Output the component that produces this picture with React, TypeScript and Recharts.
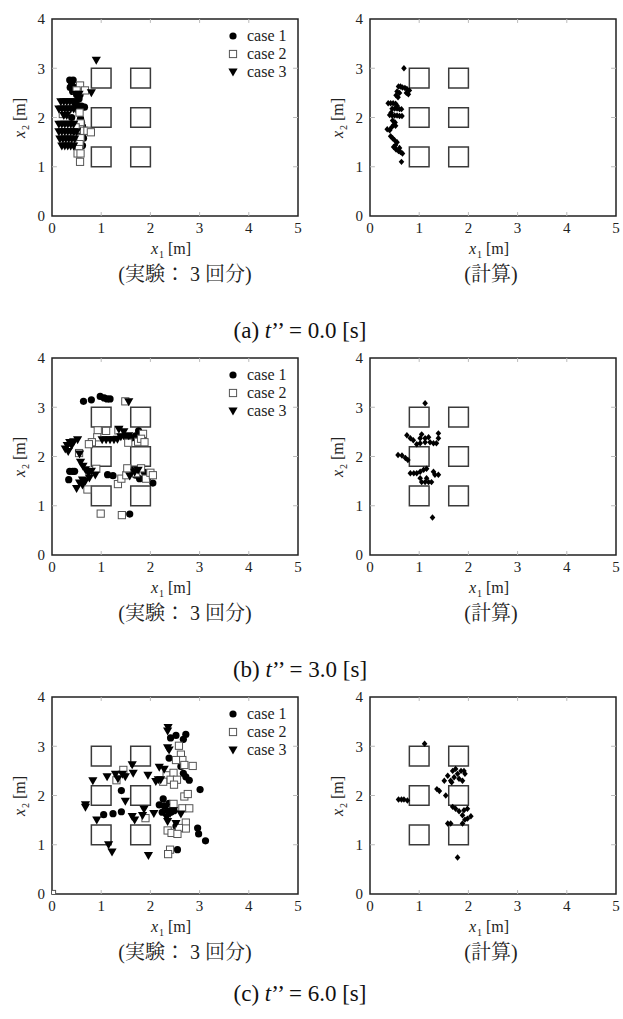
import React from "react";
import {
  ScatterChart,
  Scatter,
  XAxis,
  YAxis,
  ReferenceArea,
  ReferenceLine,
} from "recharts";

type Pt = [number, number];

const xTicks = [0, 1, 2, 3, 4, 5];
const yTicks = [0, 1, 2, 3, 4];
const innerXTicks = [1, 2, 3, 4];
const innerYTicks = [1, 2, 3];

// pillars (0.4 m squares)
const obstacleX = [0.8, 1.6];
const obstacleY = [1.0, 1.8, 2.6];
const obstacleSize = 0.4;

const caseNames = ["case 1", "case 2", "case 3"];
const captions = ["(実験： 3 回分)", "(計算)"];
const titleTags = ["(a)", "(b)", "(c)"];
const titleTimes = ["0.0", "3.0", "6.0"];

// t'' = 0.0 s
const t0Case1: Pt[] = [
  [0.36, 2.76], [0.43, 2.76], [0.4, 2.68], [0.37, 2.61], [0.45, 2.61], [0.42, 2.53],
  [0.5, 2.46], [0.57, 2.46], [0.55, 2.38], [0.47, 2.3], [0.53, 2.24], [0.6, 2.23],
  [0.66, 2.21], [0.53, 2.15], [0.58, 1.98], [0.6, 1.9], [0.62, 1.82], [0.57, 1.7],
  [0.64, 1.58], [0.55, 1.55], [0.62, 1.43], [0.5, 1.4], [0.45, 1.72], [0.4, 2.0],
];
const t0Case2: Pt[] = [
  [0.57, 2.65], [0.67, 2.55], [0.5, 2.55], [0.22, 2.07], [0.56, 2.1], [0.58, 1.88],
  [0.57, 1.76], [0.65, 1.73], [0.72, 1.73], [0.79, 1.7], [0.58, 1.58], [0.56, 1.46],
  [0.55, 1.36], [0.52, 1.27], [0.58, 1.27], [0.57, 1.1], [0.48, 1.8],
];
const t0Case3: Pt[] = [
  [0.9, 3.16], [0.8, 2.5], [0.48, 2.47], [0.55, 2.47],
  [0.18, 2.32], [0.24, 2.32], [0.3, 2.32], [0.36, 2.32], [0.42, 2.32], [0.48, 2.32],
  [0.14, 2.17], [0.2, 2.17], [0.26, 2.17], [0.32, 2.17], [0.38, 2.17], [0.44, 2.17],
  [0.24, 2.04], [0.3, 2.04],
  [0.14, 1.86], [0.2, 1.86], [0.26, 1.86], [0.32, 1.86], [0.38, 1.86], [0.44, 1.86],
  [0.14, 1.71], [0.2, 1.71], [0.26, 1.71], [0.32, 1.71], [0.38, 1.71], [0.44, 1.71], [0.5, 1.71],
  [0.16, 1.56], [0.22, 1.56], [0.28, 1.56], [0.34, 1.56], [0.4, 1.56], [0.46, 1.56],
  [0.2, 1.42], [0.26, 1.42], [0.32, 1.42], [0.38, 1.42], [0.44, 1.42],
];
const t0Calc: Pt[] = [
  [0.69, 3.0],
  [0.58, 2.63], [0.62, 2.63], [0.66, 2.61], [0.71, 2.6], [0.75, 2.58], [0.8, 2.55],
  [0.74, 2.5], [0.78, 2.47], [0.55, 2.53], [0.6, 2.5], [0.53, 2.45], [0.57, 2.41],
  [0.37, 2.29], [0.42, 2.29], [0.47, 2.29], [0.52, 2.28], [0.55, 2.24],
  [0.45, 2.18], [0.5, 2.18], [0.55, 2.18], [0.6, 2.17], [0.64, 2.17],
  [0.43, 2.1], [0.4, 2.05], [0.45, 2.04], [0.5, 2.04], [0.55, 2.04], [0.6, 2.03], [0.65, 2.03],
  [0.46, 1.94], [0.51, 1.9],
  [0.35, 1.76], [0.4, 1.74], [0.44, 1.8], [0.48, 1.85], [0.52, 1.83],
  [0.42, 1.62], [0.46, 1.58], [0.5, 1.54], [0.55, 1.5], [0.52, 1.44], [0.48, 1.4],
  [0.53, 1.35], [0.58, 1.32], [0.62, 1.3], [0.66, 1.27], [0.6, 1.38],
  [0.64, 1.1],
];

// t'' = 3.0 s
const t3Case1: Pt[] = [
  [0.64, 3.12], [0.8, 3.15], [0.98, 3.22], [1.06, 3.19], [1.12, 3.17], [1.18, 3.17],
  [0.36, 1.7], [0.42, 1.7], [0.46, 1.7], [0.34, 1.53],
  [1.13, 1.63], [1.24, 1.61],
  [1.4, 2.45], [1.5, 2.4], [1.62, 2.38], [1.7, 2.42], [1.76, 2.52], [1.85, 2.35],
  [1.52, 1.65], [1.62, 1.72], [1.7, 1.62], [1.78, 1.55], [1.88, 1.68], [1.95, 1.58],
  [2.05, 1.46], [1.58, 0.83],
];
const t3Case2: Pt[] = [
  [1.49, 3.12], [0.93, 2.53], [1.1, 2.52], [0.92, 2.39], [0.81, 2.29], [0.75, 2.25],
  [0.55, 2.07], [0.9, 1.75], [0.72, 1.33], [0.99, 0.84], [1.42, 0.81],
  [1.35, 2.53], [1.55, 2.28], [1.75, 2.3], [1.85, 2.46], [1.81, 2.36], [1.88, 2.29],
  [1.34, 1.44], [1.41, 1.55], [1.51, 1.62], [1.53, 1.76], [1.71, 1.66], [1.81, 1.76],
  [1.91, 1.55], [2.0, 1.67], [2.05, 1.62],
];
const t3Case3: Pt[] = [
  [1.56, 3.11],
  [0.27, 2.15], [0.31, 2.22], [0.36, 2.28], [0.4, 2.22], [0.44, 2.3], [0.52, 2.34], [0.33, 2.1],
  [0.56, 2.05], [0.58, 1.88], [0.63, 1.8], [0.68, 1.73], [0.74, 1.66], [0.8, 1.7],
  [0.5, 1.35], [0.56, 1.46], [0.62, 1.52], [0.68, 1.5], [0.76, 1.56], [0.88, 1.62], [0.62, 1.42],
  [1.02, 2.34], [1.1, 2.34], [1.18, 2.34], [1.26, 2.34],
  [1.36, 2.55], [1.46, 2.5], [1.4, 2.4], [1.56, 2.42], [1.33, 2.35],
  [1.58, 1.6], [1.68, 1.68], [1.75, 1.72],
];
const t3Calc: Pt[] = [
  [1.12, 3.08],
  [0.75, 2.43], [0.82, 2.37], [0.88, 2.33], [1.02, 2.37], [1.05, 2.45], [1.12, 2.37],
  [1.19, 2.39], [1.22, 2.29], [1.29, 2.27], [1.35, 2.27], [1.39, 2.37], [1.39, 2.47],
  [1.02, 2.27], [1.12, 2.29], [0.95, 2.25],
  [0.57, 2.03], [0.65, 2.02], [0.72, 1.97], [0.77, 1.93],
  [0.82, 1.66], [0.89, 1.66], [0.95, 1.66], [1.02, 1.69], [1.09, 1.73], [1.15, 1.75],
  [1.02, 1.56], [1.05, 1.48], [1.12, 1.48], [1.19, 1.48], [1.25, 1.48], [1.29, 1.69],
  [1.32, 1.63], [1.39, 1.63], [1.15, 1.56],
  [1.27, 0.76],
];

// t'' = 6.0 s
const t6Case1: Pt[] = [
  [2.41, 3.17], [2.52, 3.22], [2.72, 3.24], [2.67, 3.14], [2.38, 2.76],
  [2.62, 2.59], [2.67, 2.45], [2.72, 2.38], [2.79, 2.31], [3.01, 2.12],
  [1.41, 2.1], [1.05, 1.61], [1.24, 1.63], [1.41, 1.67],
  [2.26, 1.93], [2.18, 1.81], [2.28, 1.79], [2.38, 1.84], [2.24, 1.66], [2.35, 1.69],
  [2.48, 1.69], [2.41, 1.66], [2.52, 1.38],
  [2.96, 1.34], [2.98, 1.22], [3.12, 1.08], [2.55, 0.9],
];
const t6Case2: Pt[] = [
  [2.58, 3.01], [2.62, 2.83], [2.65, 2.72], [2.52, 2.72], [2.69, 2.62], [2.86, 2.6],
  [1.45, 2.52], [1.31, 2.31],
  [2.33, 2.41], [2.47, 2.46], [2.41, 2.32], [2.54, 2.32], [2.26, 2.28], [2.48, 2.22],
  [2.69, 1.98], [2.76, 2.03], [2.47, 1.83], [2.65, 1.74], [2.79, 1.74], [1.9, 1.54],
  [2.72, 1.45], [2.72, 1.33], [2.58, 1.34], [2.35, 1.29], [2.43, 1.24], [2.55, 1.22],
  [2.4, 0.9], [2.36, 0.81], [0.0, 0.0],
];
const t6Case3: Pt[] = [
  [2.36, 3.38], [2.35, 3.31], [2.35, 2.97], [2.38, 2.92],
  [0.68, 1.81], [0.68, 1.76], [0.83, 2.3],
  [1.12, 2.38], [1.29, 2.43], [1.34, 2.34], [1.43, 2.43], [1.49, 2.38], [1.65, 2.45], [1.63, 2.62],
  [1.95, 2.41], [2.18, 2.57], [2.28, 2.53], [2.11, 2.28], [2.16, 2.32], [2.21, 2.32],
  [1.49, 1.88], [0.91, 1.5], [1.63, 1.57], [1.68, 1.5], [1.87, 1.72], [1.84, 1.59], [2.07, 1.63],
  [1.15, 1.0], [1.22, 0.85], [1.96, 0.78],
  [2.33, 1.55], [2.35, 1.47], [2.4, 1.63], [2.47, 1.69], [2.52, 1.43], [2.62, 1.62], [2.31, 1.76],
];
const t6Calc: Pt[] = [
  [1.11, 3.05],
  [0.58, 1.92], [0.64, 1.92], [0.69, 1.92], [0.76, 1.9],
  [1.36, 2.13], [1.41, 2.09], [1.51, 2.3], [1.54, 2.0],
  [1.58, 2.4], [1.64, 2.3], [1.68, 2.5], [1.74, 2.54], [1.78, 2.44], [1.81, 2.34],
  [1.71, 2.37], [1.88, 2.3], [1.91, 2.5], [1.85, 2.5], [1.93, 2.44], [1.66, 2.27],
  [1.68, 1.77], [1.74, 1.73], [1.81, 1.68], [1.91, 1.7], [1.98, 1.73],
  [1.88, 1.6], [1.93, 1.51], [1.88, 1.43], [1.98, 1.53], [2.05, 1.58],
  [1.58, 1.43], [1.64, 1.43],
  [1.78, 0.74],
];

const SERIF = "Liberation Serif, DejaVu Serif, Noto Serif, serif";
const CAPTION_FONT = "Liberation Serif, DejaVu Serif, Noto Serif CJK JP, Noto Sans CJK JP, serif";

const FW = 246;
const FH = 197;
const PAD = { l: 44, r: 10, t: 10, b: 30 };

const toData = (pts: Pt[]) => pts.map(([x, y]) => ({ x, y }));

const Dot = (p: any) => <circle cx={p.cx} cy={p.cy} r={3.6} fill="#000" />;
const OpenSquare = (p: any) => (
  <rect x={p.cx - 3.6} y={p.cy - 3.6} width={7.2} height={7.2} fill="#fff" stroke="#555" strokeWidth={1} />
);
const DownTri = (p: any) => (
  <polygon
    points={`${p.cx - 4.6},${p.cy - 3.6} ${p.cx + 4.6},${p.cy - 3.6} ${p.cx},${p.cy + 4.4}`}
    fill="#000"
  />
);
const SmallDiamond = (p: any) => (
  <polygon
    points={`${p.cx},${p.cy - 3.2} ${p.cx + 2.8},${p.cy} ${p.cx},${p.cy + 3.2} ${p.cx - 2.8},${p.cy}`}
    fill="#000"
  />
);

type Series = { data: Pt[]; shape: (p: any) => React.ReactElement };

const tickFont = { fontFamily: SERIF, fontSize: 15, fill: "#222" };

const Panel = ({ fx, fy, series }: { fx: number; fy: number; series: Series[] }) => (
  <div style={{ position: "absolute", left: fx - PAD.l, top: fy - PAD.t }}>
    <ScatterChart
      width={FW + PAD.l + PAD.r}
      height={FH + PAD.t + PAD.b}
      margin={{ top: PAD.t, right: PAD.r, left: 0, bottom: 0 }}
      style={{ fontFamily: SERIF }}
    >
      <XAxis
        type="number"
        dataKey="x"
        domain={[0, 5]}
        ticks={xTicks}
        allowDataOverflow
        axisLine={false}
        tickLine={false}
        height={PAD.b}
        tickMargin={0}
        tick={tickFont}
      />
      <YAxis
        type="number"
        dataKey="y"
        domain={[0, 4]}
        ticks={yTicks}
        allowDataOverflow
        axisLine={false}
        tickLine={false}
        width={PAD.l}
        tickMargin={1}
        tick={tickFont}
      />
      {innerXTicks.map((t) => (
        <ReferenceLine key={`bx${t}`} segment={[{ x: t, y: 0 }, { x: t, y: 0.08 }]} stroke="#bbb" />
      ))}
      {innerXTicks.map((t) => (
        <ReferenceLine key={`tx${t}`} segment={[{ x: t, y: 4 }, { x: t, y: 3.92 }]} stroke="#bbb" />
      ))}
      {innerYTicks.map((t) => (
        <ReferenceLine key={`ly${t}`} segment={[{ x: 0, y: t }, { x: 0.1, y: t }]} stroke="#bbb" />
      ))}
      {innerYTicks.map((t) => (
        <ReferenceLine key={`ry${t}`} segment={[{ x: 5, y: t }, { x: 4.9, y: t }]} stroke="#bbb" />
      ))}
      {obstacleX.flatMap((ox) =>
        obstacleY.map((oy) => (
          <ReferenceArea
            key={`ob${ox}-${oy}`}
            x1={ox}
            x2={ox + obstacleSize}
            y1={oy}
            y2={oy + obstacleSize}
            fill="none"
            stroke="#3a3a3a"
            strokeWidth={1.5}
          />
        ))
      )}
      <ReferenceArea x1={0} x2={5} y1={0} y2={4} fill="none" stroke="#222" strokeWidth={1.5} />
      {series.map((s, i) => (
        <Scatter key={i} data={toData(s.data)} shape={s.shape} isAnimationActive={false} />
      ))}
    </ScatterChart>
  </div>
);

const subStyle: React.CSSProperties = { fontSize: 10, position: "relative", top: 4, marginLeft: 1 };

const AxisLabels = ({ fx, fy }: { fx: number; fy: number }) => (
  <>
    <div
      style={{
        position: "absolute",
        left: fx - 4,
        width: FW,
        top: fy + FH + 24,
        textAlign: "center",
        fontFamily: SERIF,
        fontSize: 16,
        lineHeight: "18px",
        color: "#222",
      }}
    >
      <i>x</i>
      <span style={subStyle}>1</span> [m]
    </div>
    <div
      style={{
        position: "absolute",
        left: fx - 31,
        top: fy + FH / 2,
        transform: "translate(-50%, -50%) rotate(-90deg)",
        whiteSpace: "nowrap",
        fontFamily: SERIF,
        fontSize: 16,
        lineHeight: "18px",
        color: "#222",
      }}
    >
      <i>x</i>
      <span style={subStyle}>2</span> [m]
    </div>
  </>
);

const LegendBox = ({ fx, fy }: { fx: number; fy: number }) => {
  const marks = [
    <circle cx={6} cy={6} r={3.6} fill="#000" />,
    <rect x={2.4} y={2.4} width={7.2} height={7.2} fill="#fff" stroke="#555" strokeWidth={1} />,
    <polygon points="1.4,2.4 10.6,2.4 6,10.4" fill="#000" />,
  ];
  return (
    <div style={{ position: "absolute", left: fx + 175, top: fy + 8 }}>
      {caseNames.map((n, i) => (
        <div key={n} style={{ display: "flex", alignItems: "center", height: 18 }}>
          <svg width={12} height={12} style={{ marginRight: 8 }}>
            {marks[i]}
          </svg>
          <span style={{ fontFamily: SERIF, fontSize: 16, color: "#222" }}>{n}</span>
        </div>
      ))}
    </div>
  );
};

const rows = [
  { top: 19, exp: [t0Case1, t0Case2, t0Case3], calc: t0Calc, titleY: 331 },
  { top: 358, exp: [t3Case1, t3Case2, t3Case3], calc: t3Calc, titleY: 670 },
  { top: 697, exp: [t6Case1, t6Case2, t6Case3], calc: t6Calc, titleY: 994 },
];

const LEFT_X = 52;
const RIGHT_X = 370;

const captionStyle = (center: number, top: number): React.CSSProperties => ({
  position: "absolute",
  left: center - 100,
  width: 200,
  top,
  textAlign: "center",
  fontFamily: CAPTION_FONT,
  fontSize: 20,
  lineHeight: "24px",
  color: "#222",
});

export default function App() {
  return (
    <div
      style={{
        position: "absolute",
        left: 0,
        top: 0,
        width: 623,
        height: 1019,
        background: "#fff",
        overflow: "hidden",
      }}
    >
      {rows.map((r, i) => (
        <React.Fragment key={i}>
          <Panel
            fx={LEFT_X}
            fy={r.top}
            series={[
              { data: r.exp[0], shape: Dot },
              { data: r.exp[1], shape: OpenSquare },
              { data: r.exp[2], shape: DownTri },
            ]}
          />
          <Panel fx={RIGHT_X} fy={r.top} series={[{ data: r.calc, shape: SmallDiamond }]} />
          <AxisLabels fx={LEFT_X} fy={r.top} />
          <AxisLabels fx={RIGHT_X} fy={r.top} />
          <LegendBox fx={LEFT_X} fy={r.top} />
          <div style={captionStyle(LEFT_X + 133, r.top + FH + 46)}>{captions[0]}</div>
          <div style={captionStyle(RIGHT_X + 121, r.top + FH + 46)}>{captions[1]}</div>
          <div
            style={{
              position: "absolute",
              left: 150,
              width: 300,
              top: r.titleY - 13,
              textAlign: "center",
              fontFamily: SERIF,
              fontSize: 23,
              lineHeight: "26px",
              color: "#111",
            }}
          >
            {titleTags[i]} <i>t</i>’’ = {titleTimes[i]} [s]
          </div>
        </React.Fragment>
      ))}
    </div>
  );
}
